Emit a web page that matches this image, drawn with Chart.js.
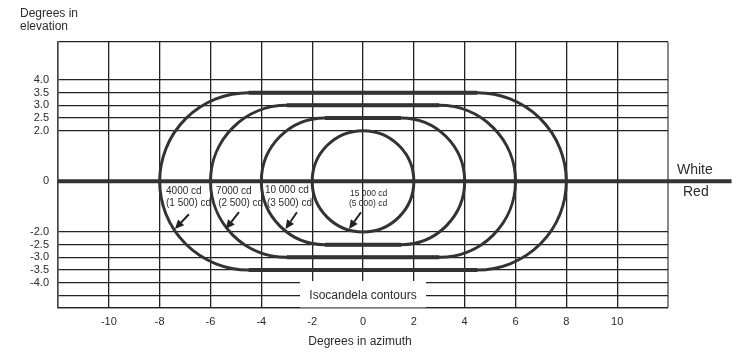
<!DOCTYPE html>
<html>
<head>
<meta charset="utf-8">
<script src="https://cdn.jsdelivr.net/npm/chart.js@4/dist/chart.umd.min.js"></script>
<style>
html,body{margin:0;padding:0;background:#fff;}
#wrap{width:756px;height:356px;}
</style>
</head>
<body>
<div id="wrap"><canvas id="c" width="756" height="356"></canvas></div>
<script>
// ---- data ----
const contourNames      = ['4000 cd', '7000 cd', '10 000 cd', '15 000 cd'];
const contourRedNames   = ['(1 500) cd', '(2 500) cd', '(3 500) cd', '(5 000) cd'];
const contourAzimuth    = [8, 6, 4, 2];        // half-width, degrees in azimuth
const contourElevation  = [3.5, 3.0, 2.5, 2.0]; // half-height, degrees in elevation
const xTickValues = [-12, -10, -8, -6, -4, -2, 0, 2, 4, 6, 8, 10, 12];
const xTickLabels = ['', '-10', '-8', '-6', '-4', '-2', '0', '2', '4', '6', '8', '10', ''];
const yTickValues = [-5, -4.5, -4, -3.5, -3, -2.5, -2, 0, 2, 2.5, 3, 3.5, 4, 5.5];
const yTickLabels = ['', '', '-4.0', '-3.5', '-3.0', '-2.5', '-2.0', '0', '2.0', '2.5', '3.0', '3.5', '4.0', ''];

// ---- annotation placement (data coordinates) ----
const labelPlacement = [
  {x1: -7.75, y1: -0.41, x2: -7.75, y2: -0.86, align: 'left', size: 10, tail: [-6.85, -1.30], head: [-7.40, -1.88]},
  {x1: -5.78, y1: -0.41, x2: -5.70, y2: -0.86, align: 'left', size: 10, tail: [-4.88, -1.22], head: [-5.40, -1.88]},
  {x1: -3.86, y1: -0.37, x2: -3.78, y2: -0.86, align: 'left', size: 10, tail: [-2.60, -1.22], head: [-3.05, -1.88]},
  {x1: 0.22,  y1: -0.47, x2: 0.20,  y2: -0.90, align: 'center', size: 8.5, tail: [-0.08, -1.22], head: [-0.55, -1.88]}
];
const dividerExtent = [-12, 14.5];
const FONT = "'Liberation Sans', Arial, sans-serif";
const INK = '#2b2b2b';

const contourPlugin = {
  id: 'contours',
  afterDatasetsDraw(chart) {
    const ctx = chart.ctx;
    const xs = chart.scales.x, ys = chart.scales.y;
    const y0 = ys.getPixelForValue(0);
    ctx.save();
    // divider line White / Red
    ctx.strokeStyle = '#333';
    ctx.lineWidth = 4;
    ctx.beginPath();
    ctx.moveTo(xs.getPixelForValue(dividerExtent[0]), y0);
    ctx.lineTo(xs.getPixelForValue(dividerExtent[1]), y0);
    ctx.stroke();

    // contours
    ctx.strokeStyle = '#333';
    for (let i = 0; i < contourAzimuth.length; i++) {
      const r = contourElevation[i];
      const c = contourAzimuth[i] - r;
      const xl = xs.getPixelForValue(-c), xr = xs.getPixelForValue(c);
      const yt = ys.getPixelForValue(r), yb = ys.getPixelForValue(-r);
      const rx = xs.getPixelForValue(c + r) - xr;
      const ry = y0 - yt;
      ctx.lineWidth = 3;
      ctx.beginPath();
      ctx.ellipse(xr, y0, rx, ry, 0, -Math.PI / 2, Math.PI / 2);
      ctx.lineTo(xl, yb);
      ctx.ellipse(xl, y0, rx, ry, 0, Math.PI / 2, 3 * Math.PI / 2);
      ctx.closePath();
      ctx.stroke();
      if (c > 0) {
        ctx.lineWidth = 4;
        ctx.beginPath();
        ctx.moveTo(xl, yt); ctx.lineTo(xr, yt);
        ctx.moveTo(xl, yb); ctx.lineTo(xr, yb);
        ctx.stroke();
      }
    }

    // labels and arrows
    ctx.fillStyle = INK;
    ctx.textBaseline = 'middle';
    for (let i = 0; i < contourNames.length; i++) {
      const p = labelPlacement[i];
      ctx.font = p.size + 'px ' + FONT;
      ctx.textAlign = p.align;
      ctx.fillText(contourNames[i], xs.getPixelForValue(p.x1), ys.getPixelForValue(p.y1));
      ctx.fillText(contourRedNames[i], xs.getPixelForValue(p.x2), ys.getPixelForValue(p.y2));
      const tx = xs.getPixelForValue(p.tail[0]), ty = ys.getPixelForValue(p.tail[1]);
      const hx = xs.getPixelForValue(p.head[0]), hy = ys.getPixelForValue(p.head[1]);
      const ang = Math.atan2(hy - ty, hx - tx);
      const L = 9, W = 4.2;
      const bx = hx - L * Math.cos(ang), by = hy - L * Math.sin(ang);
      ctx.strokeStyle = '#222';
      ctx.fillStyle = '#222';
      ctx.lineWidth = 2;
      ctx.beginPath();
      ctx.moveTo(tx, ty); ctx.lineTo(bx, by);
      ctx.stroke();
      ctx.beginPath();
      ctx.moveTo(hx, hy);
      ctx.lineTo(bx + W * Math.sin(ang), by - W * Math.cos(ang));
      ctx.lineTo(bx - W * Math.sin(ang), by + W * Math.cos(ang));
      ctx.closePath();
      ctx.fill();
      ctx.fillStyle = INK;
    }

    // white box with caption
    const ca = chart.chartArea;
    const cx = xs.getPixelForValue(0);
    ctx.fillStyle = '#fff';
    ctx.fillRect(cx - 63, ca.bottom - 27, 126, 26);
    ctx.strokeStyle = '#9a9a9a';
    ctx.lineWidth = 1.3;
    ctx.beginPath();
    ctx.moveTo(cx - 63, ca.bottom); ctx.lineTo(cx + 63, ca.bottom);
    ctx.stroke();
    ctx.fillStyle = INK;
    ctx.font = '12px ' + FONT;
    ctx.textAlign = 'center';
    ctx.fillText('Isocandela contours', cx, ca.bottom - 12);

    // White / Red
    ctx.font = '14px ' + FONT;
    ctx.textAlign = 'left';
    ctx.fillText('White', ca.right + 9, y0 - 11);
    ctx.fillText('Red', ca.right + 15, y0 + 11);

    // axis titles
    ctx.font = '12px ' + FONT;
    ctx.textAlign = 'left';
    ctx.fillText('Degrees in', 20, 14);
    ctx.fillText('elevation', 20, 27);
    ctx.textAlign = 'center';
    ctx.fillText('Degrees in azimuth', cx - 3, 342);
    ctx.restore();
  }
};

new Chart(document.getElementById('c'), {
  type: 'scatter',
  data: { datasets: [{ data: [], pointRadius: 0 }] },
  options: {
    responsive: false,
    animation: false,
    devicePixelRatio: 1,
    layout: { padding: { left: 0, right: 88, top: 42, bottom: 0 } },
    plugins: { legend: { display: false }, tooltip: { enabled: false } },
    scales: {
      x: {
        type: 'linear', min: -12, max: 12,
        afterBuildTicks: s => { s.ticks = xTickValues.map(v => ({ value: v })); },
        afterFit: s => { s.height = 48; },
        ticks: {
          autoSkip: false, maxRotation: 0, padding: 7, color: INK,
          font: { family: FONT, size: 11 },
          callback: (v, i) => xTickLabels[i]
        },
        grid: {
          drawTicks: false,
          color: c => (c.tick && c.tick.value === 12) ? '#8a8a8a' : '#222',
          lineWidth: c => (c.tick && c.tick.value === 12) ? 2 : 1.3
        },
        border: { color: '#222', width: 1.3 }
      },
      y: {
        type: 'linear', min: -5, max: 5.5,
        afterBuildTicks: s => { s.ticks = yTickValues.map(v => ({ value: v })); },
        afterFit: s => { s.width = 58; },
        ticks: {
          autoSkip: false, padding: 9, color: INK,
          font: { family: FONT, size: 11, lineHeight: 1 },
          callback: (v, i) => yTickLabels[i]
        },
        grid: {
          drawTicks: false,
          color: c => (c.tick && c.tick.value === 0) ? 'rgba(0,0,0,0)' : '#222',
          lineWidth: 1.3
        },
        border: { color: '#444', width: 1.5 }
      }
    }
  },
  plugins: [contourPlugin]
});
</script>
</body>
</html>
